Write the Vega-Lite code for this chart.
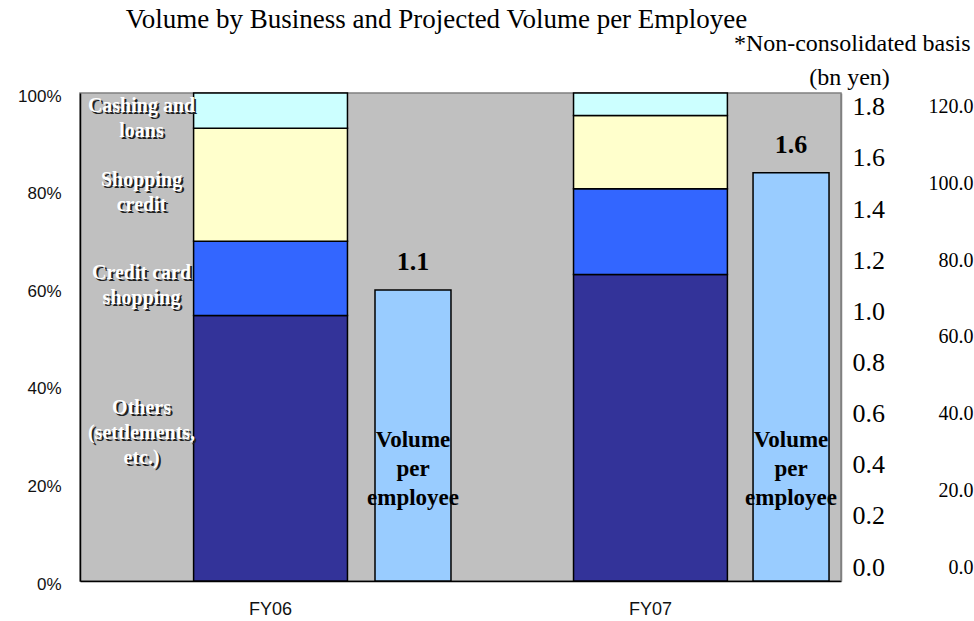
{
  "$schema": "https://vega.github.io/schema/vega-lite/v6.json",
  "autosize": {"type": "none"},
  "width": 761,
  "height": 488,
  "padding": {"left": 80, "top": 93, "right": 133, "bottom": 40},
  "background": "white",
  "title": {
    "text": "Volume by Business and Projected Volume per Employee",
    "font": "Liberation Serif",
    "fontSize": 27,
    "fontWeight": "normal",
    "color": "black",
    "anchor": "middle",
    "frame": "group",
    "baseline": "alphabetic",
    "offset": -24,
    "dx": -24
  },
  "config": {
    "view": {"fill": "#C0C0C0", "stroke": "#808080", "strokeWidth": 1.5}
  },
  "datasets": {
    "share": [
      {"year": "FY06", "cat": "Others (settlements, etc.)", "ord": 1, "pct": 0.544, "label": "Others\n(settlements,\netc.)"},
      {"year": "FY06", "cat": "Credit card shopping", "ord": 2, "pct": 0.152, "label": "Credit card\nshopping"},
      {"year": "FY06", "cat": "Shopping credit", "ord": 3, "pct": 0.232, "label": "Shopping\ncredit"},
      {"year": "FY06", "cat": "Cashing and loans", "ord": 4, "pct": 0.072, "label": "Cashing and\nloans"},
      {"year": "FY07", "cat": "Others (settlements, etc.)", "ord": 1, "pct": 0.628, "label": "Others\n(settlements,\netc.)"},
      {"year": "FY07", "cat": "Credit card shopping", "ord": 2, "pct": 0.176, "label": "Credit card\nshopping"},
      {"year": "FY07", "cat": "Shopping credit", "ord": 3, "pct": 0.150, "label": "Shopping\ncredit"},
      {"year": "FY07", "cat": "Cashing and loans", "ord": 4, "pct": 0.046, "label": "Cashing and\nloans"}
    ],
    "volume": [
      {"year": "FY06", "vol": 1.138, "name": "Volume\nper\nemployee"},
      {"year": "FY07", "vol": 1.597, "name": "Volume\nper\nemployee"}
    ],
    "third": [{"v": 0}, {"v": 120}]
  },
  "layer": [
    {
      "data": {"name": "share"},
      "encoding": {
        "x": {
          "field": "year",
          "type": "nominal",
          "sort": ["FY06", "FY07"],
          "scale": {"paddingInner": 0.595, "paddingOuter": 0.299},
          "axis": {
            "title": null,
            "labelAngle": 0,
            "labelFont": "Liberation Sans",
            "labelFontSize": 18,
            "labelColor": "#111",
            "labelPadding": 19,
            "ticks": false,
            "domainColor": "black",
            "domainWidth": 1.5
          }
        }
      },
      "layer": [
        {
          "mark": {"type": "bar", "stroke": "black", "strokeWidth": 1.5},
          "encoding": {
            "y": {
              "field": "pct",
              "type": "quantitative",
              "stack": "zero",
              "scale": {"domain": [0, 1], "nice": false},
              "axis": {
                "title": null,
                "orient": "left",
                "values": [0, 0.2, 0.4, 0.6, 0.8, 1],
                "format": ".0%",
                "labelFont": "Liberation Sans",
                "labelFontSize": 17,
                "labelColor": "#111",
                "grid": false,
                "ticks": false,
                "labelPadding": 19,
                "labelOffset": 3,
                "domainColor": "black",
                "domainWidth": 1.5,
                "zindex": 1
              }
            },
            "color": {
              "field": "cat",
              "type": "nominal",
              "scale": {
                "domain": ["Others (settlements, etc.)", "Credit card shopping", "Shopping credit", "Cashing and loans"],
                "range": ["#333399", "#3366FF", "#FFFFCC", "#CCFFFF"]
              },
              "legend": null
            },
            "order": {"field": "ord", "type": "quantitative"}
          }
        },
        {
          "transform": [{"filter": "datum.year == 'FY06'"}],
          "mark": {"type": "text", "font": "Liberation Serif", "fontSize": 20, "fontWeight": "bold", "lineBreak": "\n", "lineHeight": 25, "baseline": "middle", "align": "center", "dx": -127, "dy": -3, "fill": "#222"},
          "encoding": {
            "y": {"field": "pct", "type": "quantitative", "stack": "zero", "bandPosition": 0.5},
            "detail": {"field": "cat"},
            "order": {"field": "ord", "type": "quantitative"},
            "text": {"condition": {"test": "datum.ord > 1", "field": "label"}, "value": ""}
          }
        },
        {
          "transform": [{"filter": "datum.year == 'FY06'"}],
          "mark": {"type": "text", "font": "Liberation Serif", "fontSize": 20, "fontWeight": "bold", "lineBreak": "\n", "lineHeight": 25, "baseline": "middle", "align": "center", "dx": -129, "dy": -5, "fill": "white"},
          "encoding": {
            "y": {"field": "pct", "type": "quantitative", "stack": "zero", "bandPosition": 0.5},
            "detail": {"field": "cat"},
            "order": {"field": "ord", "type": "quantitative"},
            "text": {"condition": {"test": "datum.ord > 1", "field": "label"}, "value": ""}
          }
        },
        {
          "transform": [{"filter": "datum.year == 'FY06'"}],
          "mark": {"type": "text", "font": "Liberation Serif", "fontSize": 20, "fontWeight": "bold", "lineBreak": "\n", "lineHeight": 25, "baseline": "middle", "align": "center", "dx": -127, "dy": -38, "fill": "#222"},
          "encoding": {
            "y": {"field": "pct", "type": "quantitative", "stack": "zero", "bandPosition": 0.5},
            "detail": {"field": "cat"},
            "order": {"field": "ord", "type": "quantitative"},
            "text": {"condition": {"test": "datum.ord == 1", "field": "label"}, "value": ""}
          }
        },
        {
          "transform": [{"filter": "datum.year == 'FY06'"}],
          "mark": {"type": "text", "font": "Liberation Serif", "fontSize": 20, "fontWeight": "bold", "lineBreak": "\n", "lineHeight": 25, "baseline": "middle", "align": "center", "dx": -129, "dy": -40, "fill": "white"},
          "encoding": {
            "y": {"field": "pct", "type": "quantitative", "stack": "zero", "bandPosition": 0.5},
            "detail": {"field": "cat"},
            "order": {"field": "ord", "type": "quantitative"},
            "text": {"condition": {"test": "datum.ord == 1", "field": "label"}, "value": ""}
          }
        }
      ]
    },
    {
      "data": {"name": "volume"},
      "encoding": {
        "x": {
          "field": "year",
          "type": "nominal",
          "sort": ["FY06", "FY07"],
          "scale": {"paddingInner": 0.799, "paddingOuter": 0.406, "align": 0.961},
          "axis": null
        }
      },
      "layer": [
        {
          "mark": {"type": "bar", "color": "#99CCFF", "stroke": "black", "strokeWidth": 1.5},
          "encoding": {
            "y": {
              "field": "vol",
              "type": "quantitative",
              "scale": {"domain": [0, 1.909], "nice": false},
              "axis": {
                "orient": "right",
                "title": "(bn yen)",
                "titleAngle": 0,
                "titleFont": "Liberation Serif",
                "titleFontSize": 24,
                "titleFontWeight": "normal",
                "titleColor": "black",
                "titleAlign": "center",
                "titleBaseline": "alphabetic",
                "titleX": 8,
                "titleY": -9,
                "values": [0, 0.2, 0.4, 0.6, 0.8, 1.0, 1.2, 1.4, 1.6, 1.8],
                "format": ".1f",
                "labelFont": "Liberation Serif",
                "labelFontSize": 26,
                "labelColor": "black",
                "labelPadding": 11,
                "labelOffset": -14,
                "ticks": false,
                "grid": false,
                "domainColor": "#808080",
                "domainWidth": 1.5
              }
            }
          }
        },
        {
          "mark": {"type": "text", "font": "Liberation Serif", "fontSize": 26, "fontWeight": "bold", "baseline": "alphabetic", "align": "center", "dy": -20, "color": "black"},
          "encoding": {
            "y": {"field": "vol", "type": "quantitative"},
            "text": {"field": "vol", "format": ".1f"}
          }
        },
        {
          "mark": {"type": "text", "font": "Liberation Serif", "fontSize": 23, "fontWeight": "bold", "baseline": "middle", "align": "center", "lineBreak": "\n", "lineHeight": 29, "color": "black"},
          "encoding": {
            "y": {"datum": 0.552},
            "text": {"field": "name"}
          }
        }
      ]
    },
    {
      "data": {"name": "third"},
      "mark": {"type": "point", "opacity": 0},
      "encoding": {
        "y": {
          "field": "v",
          "type": "quantitative",
          "scale": {"domain": [0, 127.3], "nice": false},
          "axis": {
            "orient": "right",
            "title": "*Non-consolidated basis",
            "titleAngle": 0,
            "titleFont": "Liberation Serif",
            "titleFontSize": 24,
            "titleFontWeight": "normal",
            "titleColor": "black",
            "titleAlign": "right",
            "titleBaseline": "alphabetic",
            "titleX": 129,
            "titleY": -43,
            "values": [0, 20, 40, 60, 80, 100, 120],
            "format": ".1f",
            "labelFont": "Liberation Serif",
            "labelFontSize": 20,
            "labelColor": "black",
            "labelAlign": "right",
            "labelPadding": 132,
            "labelOffset": -14,
            "ticks": false,
            "domain": false,
            "grid": false
          }
        }
      }
    }
  ],
  "resolve": {
    "scale": {"x": "independent", "y": "independent"},
    "axis": {"x": "independent", "y": "independent"}
  }
}
